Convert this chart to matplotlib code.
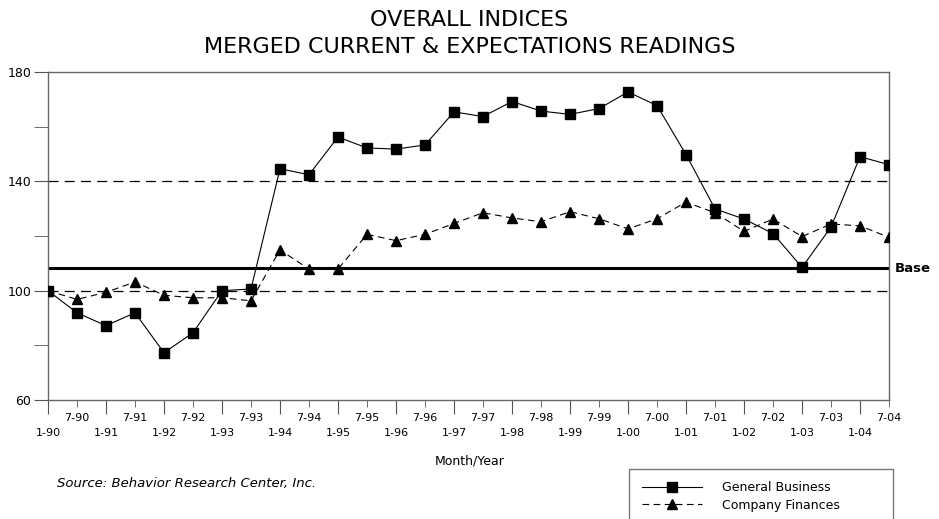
import matplotlib.pyplot as plt

plt.rcParams['font.family'] = ['DejaVu Sans']

# Half-year periods, Jan 1990 .. Jul 2004
periods = ['1-90', '7-90', '1-91', '7-91', '1-92', '7-92', '1-93', '7-93',
           '1-94', '7-94', '1-95', '7-95', '1-96', '7-96', '1-97', '7-97',
           '1-98', '7-98', '1-99', '7-99', '1-00', '7-00', '1-01', '7-01',
           '1-02', '7-02', '1-03', '7-03', '1-04', '7-04']

general_business = [100.0, 91.9, 87.2, 91.9, 77.3, 84.6, 100.0, 100.6,
                    144.6, 142.4, 156.2, 152.2, 151.8, 153.3, 165.4, 163.7,
                    169.2, 165.7, 164.5, 166.6, 172.7, 167.7, 149.8, 129.9,
                    126.2, 120.9, 108.5, 123.3, 149.0, 146.1]

company_finances = [100.0, 96.8, 99.4, 103.2, 98.3, 97.4, 97.4, 96.3,
                    114.9, 107.9, 107.9, 120.6, 118.3, 120.6, 124.6, 128.5,
                    126.6, 125.2, 128.9, 126.3, 122.6, 126.3, 132.4, 128.5,
                    121.7, 126.2, 119.8, 124.4, 123.7, 119.5]

base_value = 108.2
ref_lines = [100, 140]

x = list(range(len(periods)))

fig = plt.figure(figsize=(9.39, 5.19), dpi=100)
ax = fig.add_axes([0.0511, 0.2293, 0.8957, 0.632])

for v in ref_lines:
    ax.axhline(v, color='black', lw=0.9, dashes=(8, 5), zorder=1)
ax.axhline(base_value, color='black', lw=2.2, zorder=1)

ax.plot(x, general_business, color='black', lw=0.8, marker='s', ms=6.5,
        label='General Business', zorder=3)
ax.plot(x, company_finances, color='black', lw=0.8, dashes=(6, 4), marker='^', ms=7.5,
        label='Company Finances', zorder=3)

ax.set_xlim(0, len(periods) - 1)
ax.set_ylim(60, 180)
ax.set_yticks([60, 100, 140, 180])
ax.set_yticks([80, 120, 160], minor=True)

ax.set_xticks(x[::2])
ax.set_xticklabels(periods[::2])
ax.set_xticks(x[1::2], minor=True)
ax.set_xticklabels(periods[1::2], minor=True)

ax.tick_params(axis='x', which='major', length=10, pad=10, labelsize=8, color='#555555')
ax.tick_params(axis='x', which='minor', length=5, pad=4.5, labelsize=8, color='#555555')
ax.tick_params(axis='y', which='both', length=10, labelsize=9, color='#555555', pad=2)

for s in ax.spines.values():
    s.set_color('#666666')
    s.set_linewidth(1)

ax.text(1.007, base_value, 'Base', transform=ax.get_yaxis_transform(),
        fontsize=9.5, fontweight='bold', va='center', ha='left')

fig.text(0.5, 0.962, 'OVERALL INDICES', ha='center', va='center', fontsize=16)
fig.text(0.5, 0.909, 'MERGED CURRENT & EXPECTATIONS READINGS', ha='center', va='center', fontsize=16)
fig.text(0.5, 0.112, 'Month/Year', ha='center', va='center', fontsize=9)
fig.text(0.061, 0.069, 'Source: Behavior Research Center, Inc.', ha='left', va='center',
         fontsize=9.5, style='italic')

leg = fig.legend(loc='upper left', bbox_to_anchor=(0.67, 0.0, 0.281, 0.097), mode='expand',
                 fontsize=9, frameon=True, fancybox=False, edgecolor='#555555',
                 handlelength=4.8, handletextpad=1.6, borderpad=1.0, labelspacing=0.35,
                 borderaxespad=0)
leg.get_frame().set_linewidth(1)

fig.savefig('out.png', dpi=100)
